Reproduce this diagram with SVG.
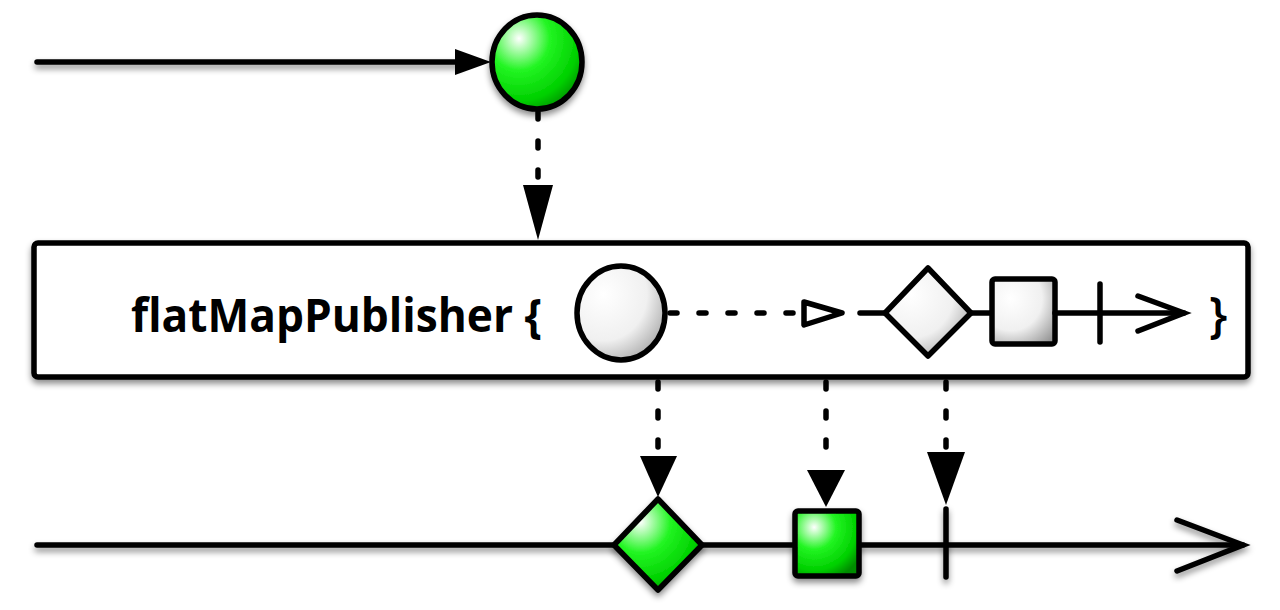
<svg xmlns="http://www.w3.org/2000/svg" width="1280" height="610" viewBox="0 0 1280 610">
  <defs>
    <radialGradient id="green" cx="0.3" cy="0.25" r="0.85">
      <stop offset="0" stop-color="#ffffff"/>
      <stop offset="0.4" stop-color="#22f522"/>
      <stop offset="0.78" stop-color="#00d000"/>
      <stop offset="1" stop-color="#008c00"/>
    </radialGradient>
    <radialGradient id="gray" cx="0.3" cy="0.3" r="0.9">
      <stop offset="0" stop-color="#ffffff"/>
      <stop offset="0.55" stop-color="#f0f0f0"/>
      <stop offset="1" stop-color="#959595"/>
    </radialGradient>
    <filter id="shadow" x="-20%" y="-20%" width="140%" height="160%">
      <feDropShadow dx="0" dy="4" stdDeviation="3" flood-color="#000" flood-opacity="0.45"/>
    </filter>
    <!-- user-space region so thin horizontal/vertical lines keep their shadow -->
    <filter id="lineShadow" filterUnits="userSpaceOnUse" x="0" y="0" width="1280" height="610">
      <feDropShadow dx="0" dy="4" stdDeviation="3" flood-color="#000" flood-opacity="0.45"/>
    </filter>
  </defs>
  <style>
    .line { stroke: #000; stroke-width: 5.5; fill: none; stroke-linecap: round; }
    .dots { stroke: #000; stroke-width: 5.5; fill: none; stroke-linecap: round; stroke-dasharray: 7 22; }
    .shape { stroke: #000; stroke-width: 5.5; stroke-linejoin: round; }
    .head { fill: #000; }
    .label { font-family: "Open Sans", "Liberation Sans", sans-serif; font-weight: bold; fill: #000; font-size: 46px; }
    .brace { font-family: "Open Sans", "Liberation Sans", sans-serif; font-weight: 600; fill: #000; font-size: 48px; }
  </style>

  <rect width="1280" height="610" fill="#fff"/>

  <!-- connectors -->
  <g id="connectors">
    <!-- source timeline -->
    <line class="line" x1="37" y1="62" x2="460" y2="62" filter="url(#lineShadow)"/>
    <path class="head" d="M455,49 L491,62 L455,75 Z"/>
    <!-- input into operator -->
    <line class="dots" x1="538" y1="112" x2="538" y2="182"/>
    <path class="head" d="M523,185 L553,185 L538,240 Z"/>
    <!-- operator outputs -->
    <line class="dots" x1="658" y1="382" x2="658" y2="452"/>
    <path class="head" d="M640,456 L677,456 L658,497 Z"/>
    <line class="dots" x1="826" y1="382" x2="826" y2="466"/>
    <path class="head" d="M807,470 L845,470 L826,507 Z"/>
    <line class="dots" x1="946" y1="382" x2="946" y2="450"/>
    <path class="head" d="M927,452 L965,452 L946,505 Z"/>
    <!-- result timeline -->
    <g filter="url(#lineShadow)">
      <line class="line" x1="37" y1="545" x2="1243" y2="545"/>
      <polyline class="line" points="1177,520 1243,545 1177,571" stroke-linejoin="miter"/>
    </g>
  </g>

  <!-- source item -->
  <g id="source-item" filter="url(#shadow)">
    <ellipse class="shape" cx="537" cy="62" rx="45" ry="47" fill="url(#green)"/>
  </g>

  <!-- operator box -->
  <g id="operator">
    <rect class="shape" x="34" y="243" width="1214" height="134" rx="4" fill="#fff" filter="url(#shadow)"/>
    <text class="label" x="131" y="332" textLength="411" lengthAdjust="spacingAndGlyphs">flatMapPublisher {</text>
    <text class="brace" x="1209" y="332">}</text>
  </g>

  <!-- inner publisher sketch -->
  <g id="inner-publisher">
    <ellipse class="shape" cx="621" cy="313" rx="44" ry="47" fill="url(#gray)"/>
    <line class="dots" x1="670" y1="313" x2="795" y2="313"/>
    <path class="shape" d="M804,302 L842,313 L804,325 Z" fill="#fff" stroke-width="4.5"/>
    <line class="line" x1="860" y1="313" x2="886" y2="313"/>
    <path class="shape" d="M928,268 L971,313 L928,356 L885,313 Z" fill="url(#gray)"/>
    <line class="line" x1="971" y1="313" x2="993" y2="313"/>
    <rect class="shape" x="992" y="279" width="63" height="65" rx="3" fill="url(#gray)"/>
    <line class="line" x1="1055" y1="313" x2="1184" y2="313"/>
    <line class="line" x1="1100" y1="284" x2="1100" y2="342"/>
    <polyline class="line" points="1138,296 1184,313 1138,331" stroke-linejoin="miter"/>
  </g>

  <!-- emitted items -->
  <g id="out-diamond" filter="url(#shadow)">
    <path class="shape" d="M658,499 L702,545 L658,590 L614,545 Z" fill="url(#green)"/>
  </g>
  <g id="out-square" filter="url(#shadow)">
    <rect class="shape" x="795" y="511" width="64" height="65" rx="3" fill="url(#green)"/>
  </g>
  <g id="out-complete" filter="url(#lineShadow)">
    <line class="line" x1="946" y1="509" x2="946" y2="577"/>
  </g>
</svg>
